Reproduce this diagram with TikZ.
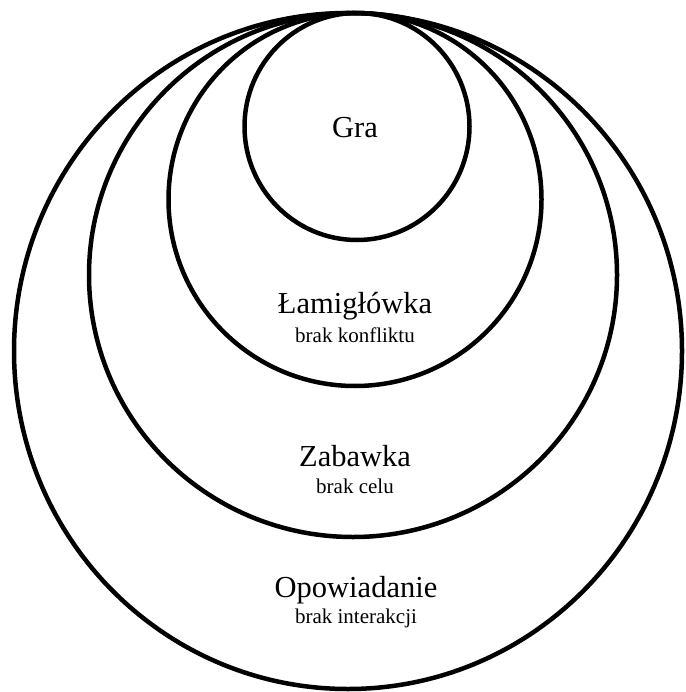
\documentclass[tikz,border=0pt]{standalone}
\usepackage{fontspec}
\usetikzlibrary{shapes.geometric}
\setmainfont{Liberation Serif}
\begin{document}
\begin{tikzpicture}[x=1pt,y=-1pt,
  ring/.style={draw=black, line width=4.5pt, ellipse, inner sep=0pt},
  title/.style={anchor=base, inner sep=0pt, font=\fontsize{30.5}{36}\selectfont},
  note/.style={anchor=base, inner sep=0pt, font=\fontsize{21}{25}\selectfont}]
  \useasboundingbox (0,0) rectangle (685,692);
  % nested rings sharing one tangent point at the top
  \node[ring, minimum width=668pt, minimum height=676pt] (opow) at (348,351) {};
  \node[ring, minimum width=528pt, minimum height=524pt] (zab)  at (353,275) {};
  \node[ring, minimum width=373pt, minimum height=373pt] (lam)  at (355,199.5) {};
  \node[ring, minimum width=225pt, minimum height=227pt] (gra)  at (357,126.5) {};
  % labels
  \node[title] (graT) at (355,138) {Gra};
  \node[title] (lamT) at (355,313) {Łamigłówka};
  \node[note]  (lamN) at (355,342) {brak konfliktu};
  \node[title] (zabT) at (355,466) {Zabawka};
  \node[note]  (zabN) at (355,493) {brak celu};
  \node[title] (opoT) at (356,597) {Opowiadanie};
  \node[note]  (opoN) at (356,623) {brak interakcji};
\end{tikzpicture}
\end{document}
